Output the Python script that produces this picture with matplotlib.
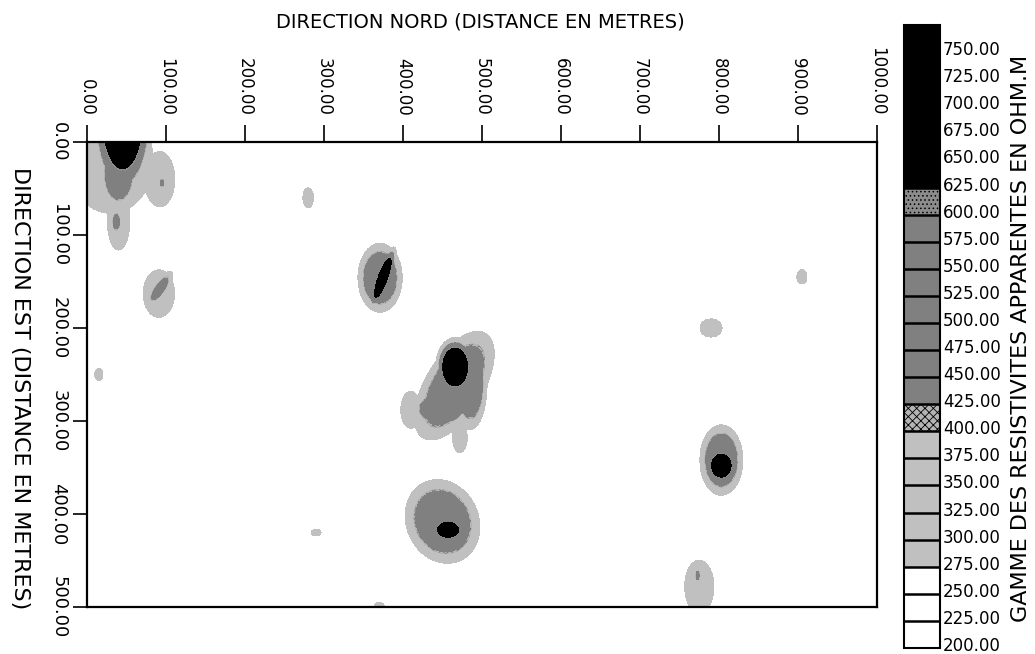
import numpy as np
import matplotlib
matplotlib.use("Agg")
import matplotlib.pyplot as plt
from matplotlib.colors import ListedColormap, BoundaryNorm
import matplotlib.transforms as mtransforms

# ---------------- data ----------------
x_ticks = [0, 100, 200, 300, 400, 500, 600, 700, 800, 900, 1000]
y_ticks = [0, 100, 200, 300, 400, 500]
x_ticklabels = ["0.00", "100.00", "200.00", "300.00", "400.00", "500.00",
                "600.00", "700.00", "800.00", "900.00", "1000.00"]
y_ticklabels = ["0.00", "100.00", "200.00", "300.00", "400.00", "500.00"]
levels = [200, 225, 250, 275, 300, 325, 350, 375, 400, 425, 450, 475, 500,
          525, 550, 575, 600, 625, 650, 675, 700, 725, 750, 775]
background_res = 220.0

# resistivity anomalies read from the map
# (nord, est, amplitude above background, spread along/perp., angle)
anom_nord = [45, 40, 30, 40, 37, 92, 95, 91, 92, 280, 371, 374.5,
             465, 485, 448, 472, 410, 466, 803, 803, 450, 457, 775, 773,
             15, 290, 370, 790, 905]
anom_est = [-25, 35, 20, 85, 86, 40, 44, 163, 158, 60, 146, 146,
            262, 260, 287, 318, 288, 242, 342, 348, 408, 417, 478, 466,
            250, 420, 500, 200, 145]
anom_amp = [600, 340, 150, 150, 260, 150, 240, 150, 260, 120, 340, 600,
            340, 340, 340, 120, 150, 600, 340, 600, 340, 600, 150, 240,
            110, 100, 110, 140, 110]
anom_sx = [22, 14, 38, 10, 4, 13.5, 2.5, 14, 15, 5, 17, 20.5,
           42, 13, 22, 7, 9, 14, 16.5, 11, 30, 12, 13, 2.5,
           4, 5, 5, 10, 5]
anom_sy = [48, 22, 40, 22, 8, 21, 4, 18, 5, 8, 22.5, 5,
           21, 30, 12, 12, 14, 18, 23, 11, 26, 7, 20, 5,
           5, 3, 4, 7, 6]
anom_angle = [0, 0, 0, 0, 0, 0, 0, 0, -50, 0, 0, 114,
              128, 0, 0, 0, 0, 0, 0, 0, 35, 0, 0, 0,
              0, 0, 0, 0, 0]

bin_colors = (["#ffffff"] * 3 + ["#c0c0c0"] * 5 + ["#b4b4b4"] +
              ["#808080"] * 7 + ["#8c8c8c"] + ["#000000"] * 6)
bin_hatches = ([None] * 8 + ["xxxx"] + [None] * 7 + ["...."] + [None] * 6)

# ---------------- field ----------------
gx = np.linspace(0, 1000, 501)
gy = np.linspace(0, 500, 251)
X, Y = np.meshgrid(gx, gy)
Z = np.zeros_like(X)
for cx, cy, a, sx, sy, ang in zip(anom_nord, anom_est, anom_amp, anom_sx, anom_sy, anom_angle):
    t = np.deg2rad(ang)
    u = (X - cx) * np.cos(t) + (Y - cy) * np.sin(t)
    v = -(X - cx) * np.sin(t) + (Y - cy) * np.cos(t)
    q = (u / sx) ** 2 + (v / sy) ** 2
    Z = np.maximum(Z, a * np.exp(-(q / 2.0) ** 2))
Z = background_res + Z
Z = np.clip(Z, levels[0], levels[-1] - 1)

# ---------------- figure ----------------
plt.rcParams["font.family"] = ["DejaVu Sans"]
plt.rcParams["hatch.color"] = "#6e6e6e"
plt.rcParams["hatch.linewidth"] = 0.6

W, H = 1035, 654
fig = plt.figure(figsize=(W / 100, H / 100), dpi=100)
ax = fig.add_axes([87 / W, 1 - 607 / H, (877 - 87) / W, (607 - 142) / H])

cmap = ListedColormap(bin_colors)
norm = BoundaryNorm(levels, cmap.N)
cs = ax.contourf(X, Y, Z, levels=levels, cmap=cmap, norm=norm, hatches=bin_hatches)

ax.set_xlim(0, 1000)
ax.set_ylim(500, 0)
ax.xaxis.tick_top()
ax.set_xticks(x_ticks)
ax.set_xticklabels(x_ticklabels, rotation=-90, fontsize=12)
ax.set_yticks(y_ticks)
ax.set_yticklabels(y_ticklabels, rotation=-90, va="center", fontsize=13)
ax.tick_params(axis="x", direction="out", length=12, width=1.2, pad=7, color="black")
ax.tick_params(axis="y", direction="out", length=10, width=1.2, pad=4, color="black")
for sp in ax.spines.values():
    sp.set_linewidth(1.6)

fig.text(480 / W, 1 - 22 / H, "DIRECTION NORD (DISTANCE EN METRES)",
         ha="center", va="center", fontsize=14)
fig.text(20 / W, 1 - 388 / H, "DIRECTION EST (DISTANCE EN METRES)",
         ha="center", va="center", rotation=-90, fontsize=16)

cax = fig.add_axes([904 / W, 1 - 648 / H, 36 / W, (648 - 25) / H])
cbar = fig.colorbar(cs, cax=cax, drawedges=True, ticks=levels[:-1])
cbar.ax.minorticks_off()
cbar.ax.set_yticklabels(["%.2f" % v for v in levels[:-1]], fontsize=12)
cbar.ax.tick_params(length=0, pad=2)
shift = mtransforms.ScaledTranslation(0, 4 / 100, fig.dpi_scale_trans)
for lab in cbar.ax.get_yticklabels():
    lab.set_transform(lab.get_transform() + shift)
cbar.outline.set_linewidth(1.5)
cbar.dividers.set_color("black")
cbar.dividers.set_linewidth(1.8)

fig.text(1021 / W, 1 - 338 / H, "GAMME DES RESISTIVITES APPARENTES EN OHM.M",
         ha="center", va="center", rotation=90, fontsize=16)

fig.savefig("out.png", dpi=100)
